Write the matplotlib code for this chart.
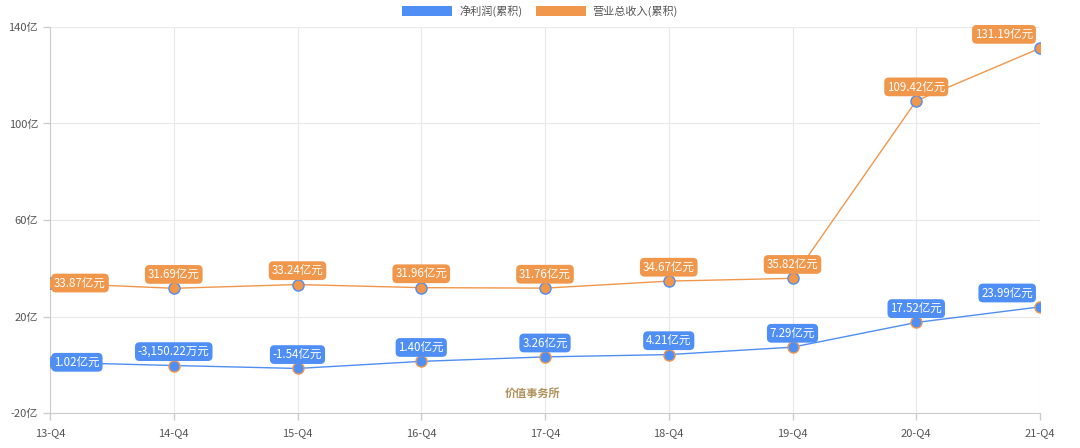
import matplotlib
matplotlib.use("Agg")
import matplotlib.pyplot as plt
from matplotlib.patches import Patch

plt.rcParams['font.family'] = ['Noto Sans CJK SC', 'DejaVu Sans']

categories = ['13-Q4', '14-Q4', '15-Q4', '16-Q4', '17-Q4', '18-Q4', '19-Q4', '20-Q4', '21-Q4']
net_profit = [1.02, -0.315022, -1.54, 1.40, 3.26, 4.21, 7.29, 17.52, 23.99]
net_profit_labels = ['1.02亿元', '-3,150.22万元', '-1.54亿元', '1.40亿元', '3.26亿元', '4.21亿元', '7.29亿元', '17.52亿元', '23.99亿元']
revenue = [33.87, 31.69, 33.24, 31.96, 31.76, 34.67, 35.82, 109.42, 131.19]
revenue_labels = ['33.87亿元', '31.69亿元', '33.24亿元', '31.96亿元', '31.76亿元', '34.67亿元', '35.82亿元', '109.42亿元', '131.19亿元']
yticks = [-20, 20, 60, 100, 140]
ytick_labels = ['-20亿', '20亿', '60亿', '100亿', '140亿']
series_names = ['净利润(累积)', '营业总收入(累积)']

BLUE = '#4e8ef5'
ORANGE = '#f0974c'

fig = plt.figure(figsize=(10.8, 4.48), dpi=100)
ax = fig.add_axes([50/1080, 35/448, 990/1080, 386/448])

x = list(range(len(categories)))
l1, = ax.plot(x, net_profit, color=BLUE, lw=1, marker='o', ms=8, mfc=BLUE, mec=ORANGE, mew=1, zorder=3)
l2, = ax.plot(x, revenue, color=ORANGE, lw=1, marker='o', ms=8, mfc=ORANGE, mec=BLUE, mew=1, zorder=3)
for ln in (l1, l2):
    ln.set_clip_path(ax.patch)

ax.set_xlim(0, len(categories) - 1)
ax.set_ylim(-20, 140)
ax.set_xticks(x)
ax.set_xticklabels(categories)
ax.set_yticks(yticks)
ax.set_yticklabels(ytick_labels)
ax.tick_params(axis='both', colors='#cccccc', labelcolor='#555555', labelsize=8, length=5, width=1)
ax.tick_params(axis='x', pad=6)
ax.grid(True, color='#e8e8e8', lw=0.8)
ax.set_axisbelow(True)
for s in ['top', 'right']:
    ax.spines[s].set_visible(False)
for s in ['left', 'bottom']:
    ax.spines[s].set_color('#cccccc')


def add_labels(vals, labels, color):
    n = len(vals)
    for i, (v, t) in enumerate(zip(vals, labels)):
        if i == 0:
            off, ha, va = (3, 0), 'left', 'center'
        elif i == n - 1:
            off, ha, va = (-5, 10), 'right', 'center'
        else:
            off, ha, va = (0, 10), 'center', 'center'
        ax.annotate(t, (i, v), xytext=off, textcoords='offset points', ha=ha, va=va,
                    fontsize=8.3, color='white', zorder=5, annotation_clip=False,
                    bbox=dict(boxstyle='round,pad=0.25,rounding_size=0.4', fc=color, ec='none'))


add_labels(net_profit, net_profit_labels, BLUE)
add_labels(revenue, revenue_labels, ORANGE)

# watermark
ax.text(3.9, -12, '价值事务所', ha='center', va='center', fontsize=8, color='#a8874a',
        fontweight='bold', zorder=1, alpha=0.9)

handles = [Patch(facecolor=BLUE, edgecolor='none'), Patch(facecolor=ORANGE, edgecolor='none')]
fig.legend(handles, series_names, loc='upper center', bbox_to_anchor=(0.5, 1.0), ncol=2, frameon=False,
           fontsize=8, labelcolor='#555555', handlelength=4.5, handleheight=1.0, columnspacing=1.2,
           handletextpad=0.6, borderaxespad=0.1)

fig.savefig('out.png', dpi=100)
